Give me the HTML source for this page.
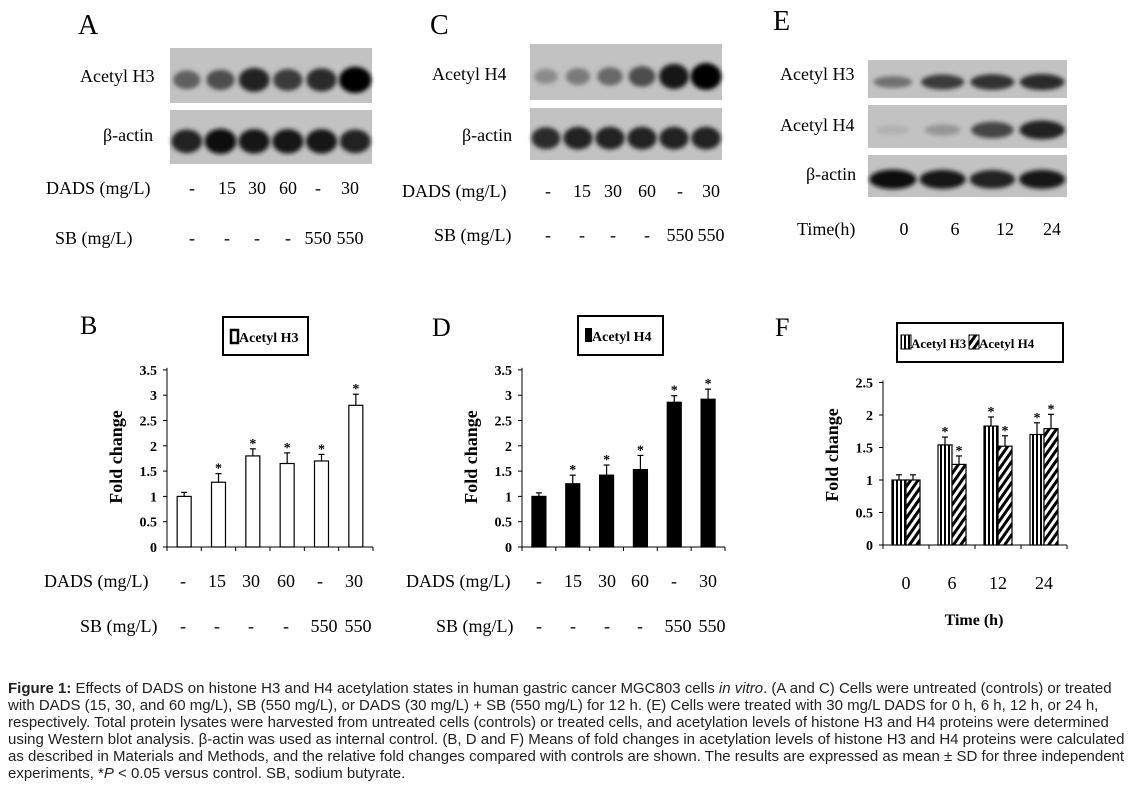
<!DOCTYPE html>
<html><head><meta charset="utf-8">
<style>
body{margin:0;background:#fff;}
svg{display:block;}
.cap{position:absolute;left:8px;top:680px;width:1126px;font-family:"Liberation Sans",sans-serif;font-size:15px;line-height:17px;color:#222;white-space:nowrap;}
</style></head>
<body>
<div style="position:relative;width:1134px;height:790px;overflow:hidden">
<svg id="fig" width="1134" height="790">
<defs>
<filter id="blur" x="-30%" y="-80%" width="160%" height="260%"><feGaussianBlur stdDeviation="2"/></filter>
<pattern id="vstripe" width="4" height="4" patternUnits="userSpaceOnUse"><rect width="4" height="4" fill="#fff"/><rect width="2" height="4" fill="#000"/></pattern>
<pattern id="diag" width="6" height="6" patternUnits="userSpaceOnUse" patternTransform="rotate(35)"><rect width="6" height="6" fill="#fff"/><rect width="3" height="6" fill="#000"/></pattern>
</defs>
</svg>
<div class="cap"><b>Figure 1:</b> Effects of DADS on histone H3 and H4 acetylation states in human gastric cancer MGC803 cells <i>in vitro</i>. (A and C) Cells were untreated (controls) or treated<br>with DADS (15, 30, and 60 mg/L), SB (550 mg/L), or DADS (30 mg/L) + SB (550 mg/L) for 12 h. (E) Cells were treated with 30 mg/L DADS for 0 h, 6 h, 12 h, or 24 h,<br>respectively. Total protein lysates were harvested from untreated cells (controls) or treated cells, and acetylation levels of histone H3 and H4 proteins were determined<br>using Western blot analysis. β-actin was used as internal control. (B, D and F) Means of fold changes in acetylation levels of histone H3 and H4 proteins were calculated<br>as described in Materials and Methods, and the relative fold changes compared with controls are shown. The results are expressed as mean ± SD for three independent<br>experiments, *<i>P</i> &lt; 0.05 versus control. SB, sodium butyrate.</div>
</div>
<script>
// ---- data ----
const bCats = ["1","2","3","4","5","6"];
const bVals = [1.0, 1.28, 1.8, 1.65, 1.7, 2.8];
const bErr  = [0.08, 0.17, 0.14, 0.21, 0.13, 0.22];
const bSig  = [false, true, true, true, true, true];
const dVals = [1.0, 1.25, 1.42, 1.53, 2.86, 2.92];
const dErr  = [0.07, 0.17, 0.2, 0.28, 0.13, 0.2];
const dSig  = [false, true, true, true, true, true];
const yTicks35 = [0, 0.5, 1, 1.5, 2, 2.5, 3, 3.5];
const yTicks25 = [0, 0.5, 1, 1.5, 2, 2.5];
const fCats = ["0","6","12","24"];
const fH3 = [1.0, 1.54, 1.83, 1.7];
const fH3Err = [0.08, 0.12, 0.14, 0.18];
const fH4 = [1.0, 1.24, 1.52, 1.79];
const fH4Err = [0.08, 0.13, 0.16, 0.22];
const fSig = [false, true, true, true];
const dadsLabels = ["-","15","30","60","-","30"];
const sbLabels = ["-","-","-","-","550","550"];
const aH3 = [0.5,0.6,0.85,0.7,0.8,1.0];
const aAct = [0.85,0.95,0.9,0.9,0.9,0.85];
const cH4 = [0.25,0.35,0.45,0.6,0.9,1.0];
const cAct = [0.8,0.85,0.85,0.85,0.85,0.85];
const eH3 = [0.4,0.7,0.75,0.8];
const eH4 = [0.05,0.2,0.65,0.85];
const eAct = [0.95,0.9,0.85,0.9];

const svg = document.getElementById('fig');
const NS = 'http://www.w3.org/2000/svg';
function el(tag, attrs, parent){const e=document.createElementNS(NS,tag);for(const k in attrs)e.setAttribute(k,attrs[k]);(parent||svg).appendChild(e);return e;}
function txt(s,x,y,size,opts){opts=opts||{};const t=el('text',{x:x,y:y,'font-size':size,'font-family':'"Liberation Serif",serif','text-anchor':opts.anchor||'start','font-weight':opts.bold?'bold':'normal',fill:'#000'});if(opts.rot)t.setAttribute('transform','rotate(-90 '+x+' '+y+')');t.textContent=s;return t;}

function blot(name,x,y,w,h,vals){
  const g=el('g',{});
  
  
  el('rect',{x:x,y:y,width:w,height:h,fill:'#c2c2c2'},g);
  const n=vals.length, slot=w/n;
  vals.forEach((v,i)=>{
    if(v<=0.02)return;
    const cx=x+slot*(i+0.5), cy=y+h*0.58;
    const c=Math.round(185-180*v);
    const e=el('ellipse',{cx:cx,cy:cy,rx:slot*(0.33+0.15*v),ry:h*(0.1+0.14*v),fill:'rgb('+c+','+c+','+c+')',filter:'url(#blur)'},g);
    
    
  });
}
const F=18;
txt('A',78,34,28);
txt('Acetyl H3',80,82,F); blot('blot-a-acetyl-h3',170,48,202,55,aH3);
txt('β-actin',103,141,F); blot('blot-a-actin',170,110,202,54,aAct);
txt('DADS (mg/L)',46,194,F); txt('SB (mg/L)',55,244,F);
const aX=[192,227,257,288,318,350];
dadsLabels.forEach((s,i)=>txt(s,aX[i],194,F,{anchor:'middle'}));
sbLabels.forEach((s,i)=>txt(s,aX[i],244,F,{anchor:'middle'}));
txt('C',430,34,28);
txt('Acetyl H4',432,80,F); blot('blot-c-acetyl-h4',530,44,192,56,cH4);
txt('β-actin',462,141,F); blot('blot-c-actin',530,108,192,52,cAct);
txt('DADS (mg/L)',402,197,F); txt('SB (mg/L)',434,241,F);
const cX=[548,582,613,647,680,711];
dadsLabels.forEach((s,i)=>txt(s,cX[i],197,F,{anchor:'middle'}));
sbLabels.forEach((s,i)=>txt(s,cX[i],241,F,{anchor:'middle'}));
txt('E',773,30,28);
txt('Acetyl H3',780,80,F); blot('blot-e-acetyl-h3',868,60,199,38,eH3);
txt('Acetyl H4',780,131,F); blot('blot-e-acetyl-h4',868,105,199,43,eH4);
txt('β-actin',806,180,F); blot('blot-e-actin',868,155,199,42,eAct);
txt('Time(h)',797,235,F);
const eX=[904,955,1005,1052];
fCats.forEach((s,i)=>txt(s,eX[i],235,F,{anchor:'middle'}));

function chart(o){
  const y0=o.y0, ppu=o.ppu;
  const Y=v=>y0-v*ppu;
  const g=el('g',{});
  
  
  el('line',{x1:o.ax,y1:Y(o.ticks[o.ticks.length-1])-2,x2:o.ax,y2:y0,stroke:'#000','stroke-width':1},g);
  el('line',{x1:o.ax,y1:y0,x2:o.ax2,y2:y0,stroke:'#000','stroke-width':1},g);
  o.ticks.forEach(t=>{
    el('line',{x1:o.ax-4,y1:Y(t),x2:o.ax,y2:Y(t),stroke:'#000'},g);
    const l=txt(String(t),o.ax-10,Y(t)+5,14,{anchor:'end',bold:true}); g.appendChild(l);
  });
  const n=o.n, slot=(o.ax2-o.ax)/n;
  for(let i=0;i<=n;i++) el('line',{x1:o.ax+slot*i,y1:y0,x2:o.ax+slot*i,y2:y0+4,stroke:'#000'},g);
  o.series.forEach((s,si)=>{
    s.vals.forEach((v,i)=>{
      const cx=o.ax+slot*(i+0.5);
      const x=o.series.length==1?cx-o.bw/2:cx-o.bw+si*o.bw;
      const r=el('rect',{x:x,y:Y(v),width:o.bw,height:v*ppu,fill:s.fill,stroke:'#000','stroke-width':1.2},g);
      
      
      const ex=x+o.bw/2, top=Y(v+s.err[i]);
      el('line',{x1:ex,y1:Y(v),x2:ex,y2:top,stroke:'#000','stroke-width':1.2},g);
      el('line',{x1:ex-3,y1:top,x2:ex+3,y2:top,stroke:'#000','stroke-width':1.2},g);
      if(s.sig[i]){const st=txt('*',ex,top-1,14,{anchor:'middle',bold:true});g.appendChild(st);}
    });
  });
  const yt=txt('Fold change',o.ax-45,y0-90,18,{bold:true,rot:true,anchor:'middle'}); g.appendChild(yt);
}
chart({name:'chart-b',ax:167,ax2:373,y0:547,ppu:50.6,ticks:yTicks35,n:6,bw:14,series:[{vals:bVals,err:bErr,sig:bSig,fill:'#fff'}]});
chart({name:'chart-d',ax:522,ax2:725,y0:547,ppu:50.6,ticks:yTicks35,n:6,bw:14,series:[{vals:dVals,err:dErr,sig:dSig,fill:'#000'}]});
chart({name:'chart-f',ax:883,ax2:1067,y0:545,ppu:65,ticks:yTicks25,n:4,bw:14,series:[{vals:fH3,err:fH3Err,sig:fSig,fill:'url(#vstripe)'},{vals:fH4,err:fH4Err,sig:fSig,fill:'url(#diag)'}]});

txt('B',80,334,26); txt('D',432,336,26); txt('F',775,336,26);
function legend(name,x,y,w,h){const r=el('rect',{x:x,y:y,width:w,height:h,fill:'#fff',stroke:'#000','stroke-width':2});}
legend('legend-b',223,317,85,38);
el('rect',{x:231,y:330,width:7,height:13,fill:'#fff',stroke:'#000','stroke-width':2.5});
txt('Acetyl H3',239,342,14,{bold:true});
legend('legend-d',578,316,85,39);
el('rect',{x:585,y:328,width:7,height:14,fill:'#000'});
txt('Acetyl H4',592,341,14,{bold:true});
legend('legend-f',897,323,166,39);
el('rect',{x:901,y:335,width:10,height:14,fill:'url(#vstripe)',stroke:'#000'});
txt('Acetyl H3',911,348,13,{bold:true});
el('rect',{x:969,y:335,width:10,height:14,fill:'url(#diag)',stroke:'#000'});
txt('Acetyl H4',979,348,13,{bold:true});

txt('DADS (mg/L)',44,587,F); txt('SB (mg/L)',80,632,F);
const bX=[183,217,251,286,320,354];
dadsLabels.forEach((s,i)=>txt(s,bX[i],587,F,{anchor:'middle'}));
sbLabels.forEach((s,i)=>txt(s,bX[i]+(i>=4?4:0),632,F,{anchor:'middle'}));
txt('DADS (mg/L)',406,587,F); txt('SB (mg/L)',436,632,F);
const dX=[539,573,607,640,674,708];
dadsLabels.forEach((s,i)=>txt(s,dX[i],587,F,{anchor:'middle'}));
sbLabels.forEach((s,i)=>txt(s,dX[i]+(i>=4?4:0),632,F,{anchor:'middle'}));
const fX=[906,952,998,1044];
fCats.forEach((s,i)=>txt(s,fX[i],589,F,{anchor:'middle'}));
txt('Time (h)',974,625,16,{anchor:'middle',bold:true});
</script>
</body></html>
